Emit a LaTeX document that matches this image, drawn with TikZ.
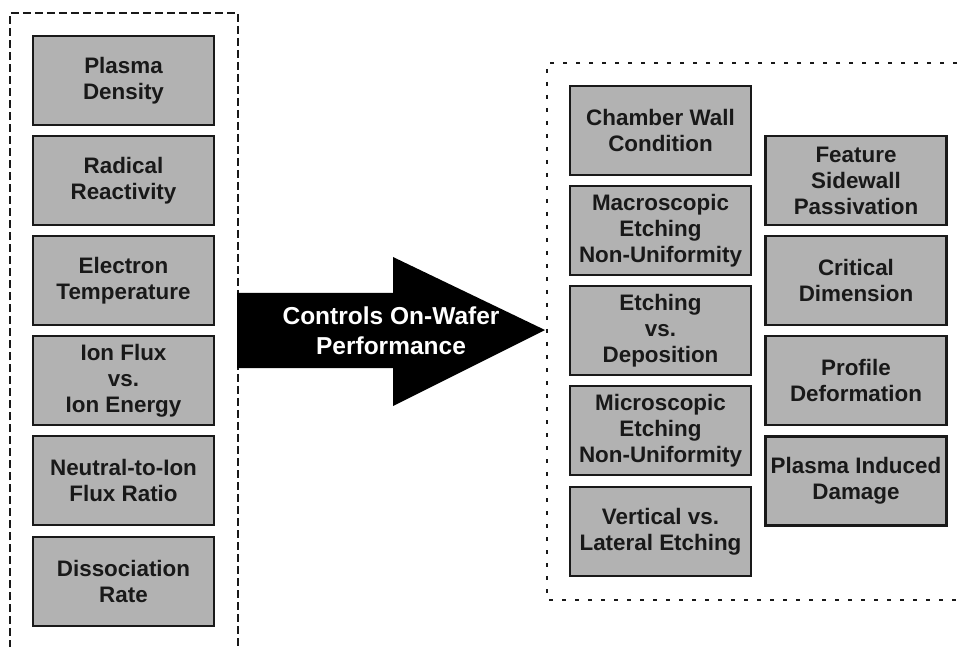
\documentclass[tikz,border=0pt]{standalone}
\usepackage{fontspec}
\setmainfont{Liberation Sans}
\begin{document}
\begin{tikzpicture}[x=1pt,y=-1pt,
  box/.style={draw=black!90,line width=2.2pt,fill=black!30,minimum width=181pt,minimum height=89pt,
    align=center,inner sep=0pt,text=black!90,font=\fontsize{22.4}{26}\selectfont\bfseries},
  leftframe/.style={line width=2pt,dash pattern=on 8pt off 4pt,black!90},
  rightframe/.style={line width=2.5pt,dash pattern=on 4pt off 9pt,black!90}]
\useasboundingbox (0,0) rectangle (959,647);
% frames
\draw[leftframe] (10,660) -- (10,13) -- (238,13) -- (238,660);
\draw[rightframe] (970,63) -- (547,63) -- (547,600) -- (970,600);
% left column
\node[box] (pd) at (123.5,80.5) {Plasma\\Density};
\node[box] (rr) at (123.5,180.5) {Radical\\Reactivity};
\node[box] (et) at (123.5,280.5) {Electron\\Temperature};
\node[box] (if) at (123.5,380.5) {Ion Flux\\vs.\\Ion Energy};
\node[box] (nt) at (123.5,480.5) {Neutral-to-Ion\\Flux Ratio};
\node[box] (dr) at (123.5,581.5) {Dissociation\\Rate};
% arrow
\fill[black] (237,293) -- (393,293) -- (393,257) -- (545,330) -- (393,406) -- (393,368) -- (237,368) -- cycle;
\node[text=white,align=center,font=\fontsize{24.5}{30}\selectfont\bfseries] (ctl) at (391,331) {Controls On-Wafer\\Performance};
% right column A
\node[box] (cw) at (660.5,130.5) {Chamber Wall\\Condition};
\node[box] (ma) at (660.5,230.5) {Macroscopic\\Etching\\Non-Uniformity};
\node[box] (ed) at (660.5,330.5) {Etching\\vs.\\Deposition};
\node[box] (mi) at (660.5,430.5) {Microscopic\\Etching\\Non-Uniformity};
\node[box] (vl) at (660.5,531.5) {Vertical vs.\\Lateral Etching};
% right column B
\node[box] (fs) at (856,180.5) {Feature\\Sidewall\\Passivation};
\node[box] (cd) at (856,280.5) {Critical\\Dimension};
\node[box] (pf) at (856,380.5) {Profile\\Deformation};
\node[box] (pi) at (856,481) {Plasma Induced\\Damage};
\end{tikzpicture}
\end{document}
